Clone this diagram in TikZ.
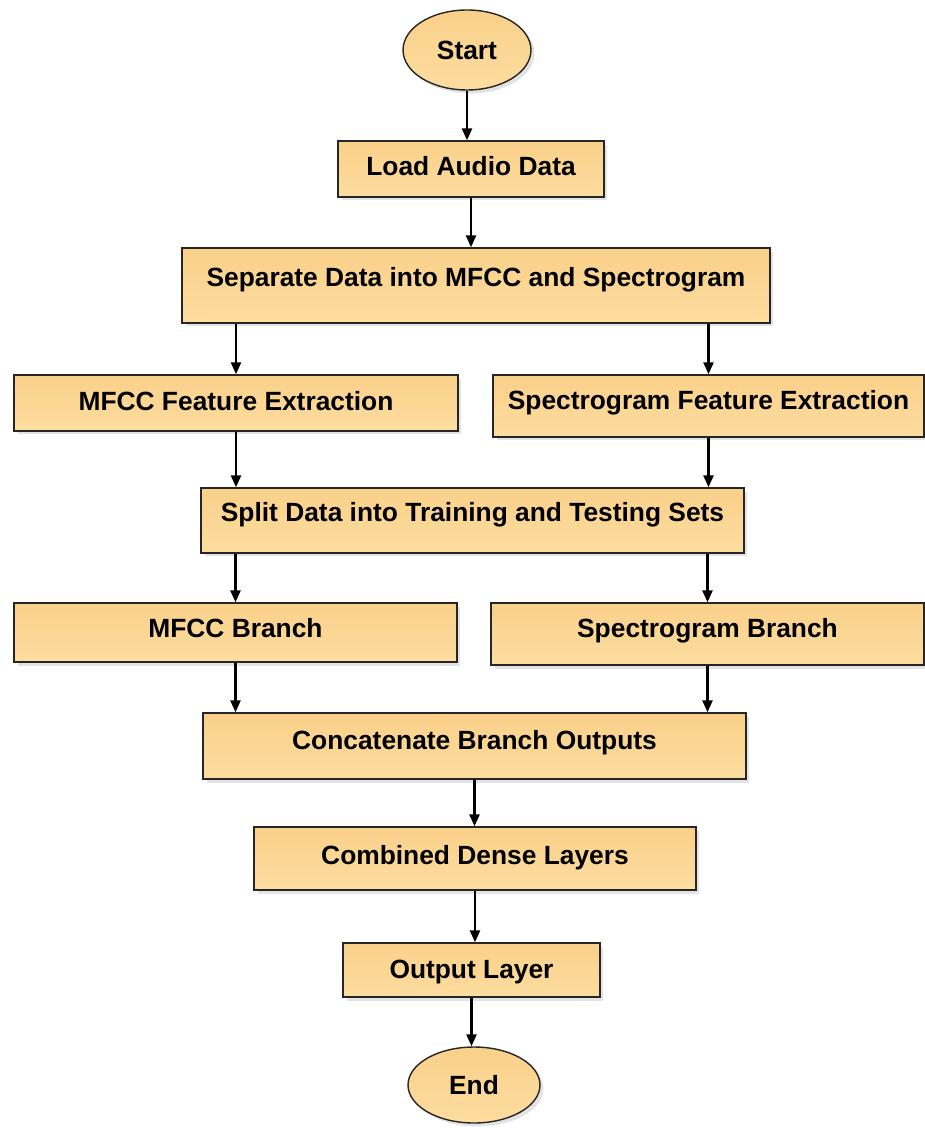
\documentclass[tikz,border=0pt]{standalone}
\usepackage{fontspec}
\setmainfont{Liberation Sans}
\usepackage{tikz}
\usetikzlibrary{arrows.meta}
\usetikzlibrary{positioning,shapes.geometric,shadows}
\definecolor{boxtop}{HTML}{F9D089}
\definecolor{boxbot}{HTML}{FDDDA0}

\begin{document}
\begin{tikzpicture}[
x=0.02cm, y=-0.02cm,
FlowBox/.style n args={3}{rectangle,draw=black!85,line width=0.8pt,
  top color=boxtop,bottom color=boxbot,
  drop shadow={shadow xshift=0.07cm,shadow yshift=-0.07cm,opacity=0.22},
  inner sep=0pt,minimum width=#1,minimum height=#2,text height=0.38cm,text depth=#3,
  font=\bfseries\fontsize{15}{18}\selectfont},
FlowEnd/.style 2 args={ellipse,draw=black!85,line width=0.8pt,
  top color=boxtop,bottom color=boxbot,
  drop shadow={shadow xshift=0.07cm,shadow yshift=-0.07cm,opacity=0.22},
  inner sep=0pt,minimum width=#1,minimum height=#2,
  font=\bfseries\fontsize{15}{18}\selectfont},
FlowArrow/.style={-{Triangle[length=0.24cm,width=0.2cm]},line width=1.4pt,black}
]
%\draw[gray!30,step=50] (0,0) grid (925,1128);
\useasboundingbox (0,0) rectangle (925,1128);

\node[FlowEnd={2.56cm}{1.60cm}] (start) at (467,50) {Start};
\node[FlowBox={5.32cm}{1.12cm}{0.12cm}] (load) at (471,169) {Load Audio Data};
\node[FlowBox={11.76cm}{1.50cm}{0.34cm}] (sep) at (476,285.5) {Separate Data into MFCC and Spectrogram};

\node[FlowBox={8.88cm}{1.12cm}{0.08cm}] (mfcc) at (236,403) {MFCC Feature Extraction};
\node[FlowBox={8.62cm}{1.24cm}{0.24cm}] (spec) at (708.5,406) {Spectrogram Feature Extraction};

\node[FlowBox={10.86cm}{1.30cm}{0.34cm}] (split) at (472.5,520.5) {Split Data into Training and Testing Sets};

\node[FlowBox={8.86cm}{1.18cm}{0.18cm}] (mbranch) at (235.5,632.5) {MFCC Branch};
\node[FlowBox={8.66cm}{1.24cm}{0.24cm}] (sbranch) at (707.5,634) {Spectrogram Branch};

\node[FlowBox={10.86cm}{1.32cm}{0.24cm}] (concat) at (474.5,746) {Concatenate Branch Outputs};
\node[FlowBox={8.84cm}{1.26cm}{0.14cm}] (dense) at (475,858.5) {Combined Dense Layers};
\node[FlowBox={5.14cm}{1.08cm}{0.04cm}] (output) at (471.5,970) {Output Layer};
\node[FlowEnd={2.64cm}{1.52cm}] (end) at (474,1085) {End};

\draw[FlowArrow] (start.south) -- (start.south |- load.north);
\draw[FlowArrow] (load.south) -- (load.south |- sep.north);
\draw[FlowArrow] (sep.south -| mfcc.south) -- (mfcc.north);
\draw[FlowArrow] (sep.south -| spec.south) -- (spec.north);
\draw[FlowArrow] (mfcc.south) -- (mfcc.south |- split.north);
\draw[FlowArrow] (spec.south) -- (spec.south |- split.north);
\draw[FlowArrow] (split.south -| mbranch.north) -- (mbranch.north);
\draw[FlowArrow] (split.south -| sbranch.north) -- (sbranch.north);
\draw[FlowArrow] (mbranch.south) -- (mbranch.south |- concat.north);
\draw[FlowArrow] (sbranch.south) -- (sbranch.south |- concat.north);
\draw[FlowArrow] (concat.south) -- (concat.south |- dense.north);
\draw[FlowArrow] (dense.south) -- (dense.south |- output.north);
\draw[FlowArrow] (output.south) -- (output.south |- end.north);

\end{tikzpicture}
\end{document}
